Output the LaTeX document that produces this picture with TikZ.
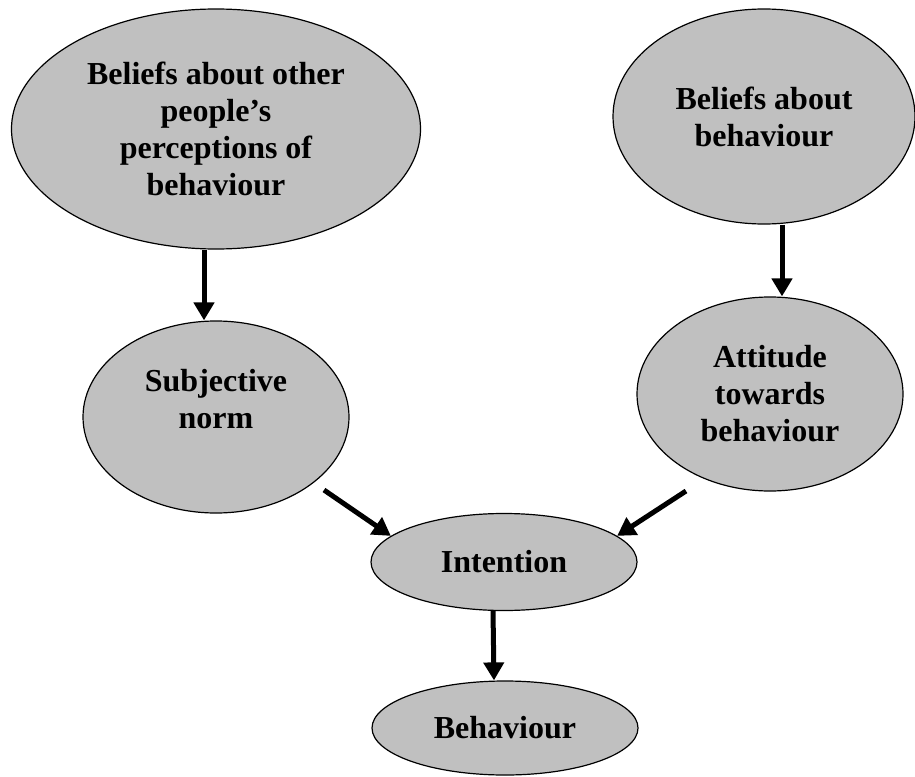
\documentclass[tikz,border=0pt]{standalone}
\usepackage{fontspec}
\setmainfont{Liberation Serif}
\usetikzlibrary{shapes.geometric, arrows.meta}
\definecolor{bubblegray}{RGB}{192,192,192}
\tikzset{>={Triangle[length=18pt,width=20pt]},
  bubble/.style={ellipse, draw=black, line width=1.2pt, fill=bubblegray,
    inner sep=0pt, align=center, font=\bfseries\fontsize{32}{37}\selectfont},
  flow/.style={->, line width=5pt}
}

\begin{document}
\begin{tikzpicture}[x=1pt, y=1pt]
\useasboundingbox (0,0) rectangle (915,-776);
\node[bubble, minimum width=409pt, minimum height=240pt] (belothers) at (216,-129)
  {Beliefs about other\\people’s\\perceptions of\\behaviour};
\node[bubble, minimum width=302pt, minimum height=215pt] (belbeh) at (764,-116.5)
  {Beliefs about\\behaviour};
\node[bubble, minimum width=266pt, minimum height=192pt] (subjnorm) at (216,-417)
  {Subjective\\norm\\~};
\node[bubble, minimum width=266pt, minimum height=194pt] (attitude) at (770,-394)
  {Attitude\\towards\\behaviour};
\node[bubble, minimum width=266pt, minimum height=97pt] (intention) at (504,-562)
  {Intention};
\node[bubble, minimum width=266pt, minimum height=94pt] (behaviour) at (505,-728)
  {Behaviour};
\coordinate (sn-out) at (324,-490);
\coordinate (att-out) at (686,-491);
\draw[flow] ([xshift=-12pt]belothers.south) -- ([xshift=-12pt]subjnorm.north);
\draw[flow] ([xshift=18pt]belbeh.south) -- ([xshift=18pt]belbeh.south |- attitude.north);
\draw[flow] (sn-out) -- (intention.167);
\draw[flow] (att-out) -- (intention.13);
\draw[flow] ([xshift=-11pt]intention.south) -- ([xshift=-11pt]behaviour.north);
\end{tikzpicture}
\end{document}
